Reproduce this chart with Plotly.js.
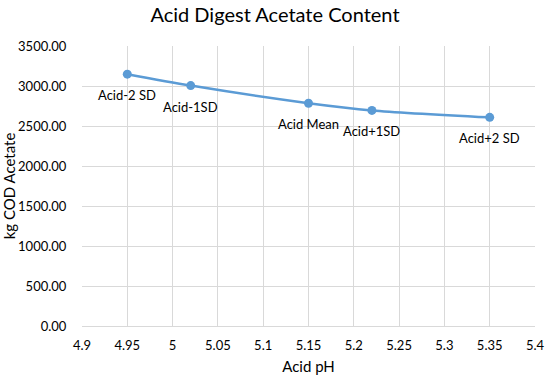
<!DOCTYPE html>
<html>
<head>
<meta charset="utf-8">
<script src="https://cdn.plot.ly/plotly-3.0.1.min.js"></script>
<style>html,body{margin:0;padding:0;background:#fff;}#chart{width:550px;height:383px;}</style>
</head>
<body>
<div id="chart"></div>
<script>
const labels = ["Acid-2 SD", "Acid-1SD", "Acid Mean", "Acid+1SD", "Acid+2 SD"];
const acidPH = [4.95, 5.02, 5.15, 5.22, 5.35];
const acetate = [3148, 3005, 2785, 2695, 2608];
const xTicks = [4.9, 4.95, 5, 5.05, 5.1, 5.15, 5.2, 5.25, 5.3, 5.35, 5.4];
const xTickText = ["4.9", "4.95", "5", "5.05", "5.1", "5.15", "5.2", "5.25", "5.3", "5.35", "5.4"];
const yTicks = [0, 500, 1000, 1500, 2000, 2500, 3000, 3500];

const font = "Lato, 'Open Sans', sans-serif";
const trace = {
  x: acidPH, y: acetate,
  mode: "lines+markers",
  type: "scatter",
  line: {color: "#5b9bd5", width: 2.5, shape: "spline", smoothing: 0.8},
  marker: {color: "#5b9bd5", size: 9},
  cliponaxis: false,
  hoverinfo: "none"
};
const annotations = labels.map((t, i) => ({
  x: acidPH[i], y: acetate[i], xref: "x", yref: "y",
  text: t, showarrow: false, yshift: -21, xanchor: "center", yanchor: "middle",
  font: {family: font, size: 13, color: "#000"}
}));
const layout = {
  width: 550, height: 383,
  margin: {l: 82, r: 15, t: 46, b: 57},
  paper_bgcolor: "#fff", plot_bgcolor: "#fff",
  showlegend: false,
  annotations: annotations,
  title: {text: "Acid Digest Acetate Content", font: {family: font, size: 20, color: "#000"}, x: 0.5, xanchor: "center", y: 0.961, yanchor: "middle"},
  xaxis: {
    range: [4.9, 5.4], tickvals: xTicks, ticktext: xTickText,
    showgrid: true, gridcolor: "#d9d9d9", gridwidth: 1,
    zeroline: false, showline: true, linecolor: "#d9d9d9",
    ticks: "outside", ticklen: 7, tickcolor: "rgba(0,0,0,0)",
    tickfont: {family: font, size: 13, color: "#000"},
    title: {text: "Acid pH", font: {family: font, size: 15, color: "#000"}, standoff: 9}
  },
  yaxis: {
    range: [0, 3500], tickvals: yTicks, tickformat: ".2f",
    showgrid: true, gridcolor: "#d9d9d9", gridwidth: 1,
    zeroline: false, showline: false,
    ticks: "outside", ticklen: 12, tickcolor: "rgba(0,0,0,0)",
    tickfont: {family: font, size: 13, color: "#000"},
    title: {text: "kg COD Acetate", font: {family: font, size: 15, color: "#000"}, standoff: 3}
  }
};
Plotly.newPlot("chart", [trace], layout, {staticPlot: true, displayModeBar: false});
</script>
</body>
</html>
